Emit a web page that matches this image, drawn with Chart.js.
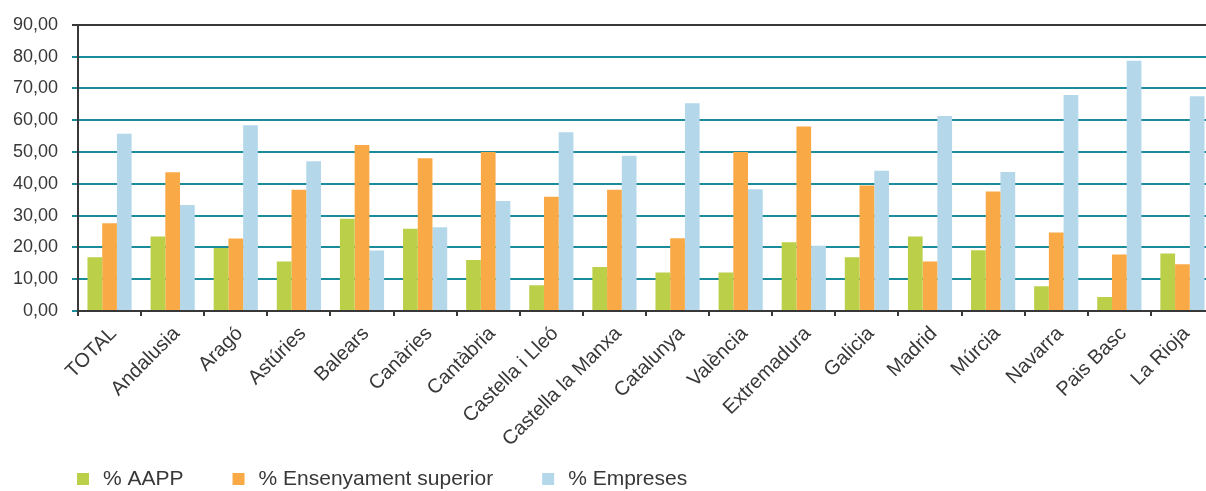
<!DOCTYPE html>
<html>
<head>
<meta charset="utf-8">
<script src="https://cdn.jsdelivr.net/npm/chart.js@4"></script>
<style>
  html, body { margin: 0; padding: 0; background: #fff; overflow: hidden; }
  /* plot runs slightly past the right edge of the window */
  #wrap { width: 1214px; height: 491px; position: relative; }
</style>
</head>
<body>
<div id="wrap"><canvas id="chart"></canvas></div>
<script>
// Comunitats autònomes
const regions = ['TOTAL', 'Andalusia', 'Aragó', 'Astúries', 'Balears', 'Canàries', 'Cantàbria',
  'Castella i Lleó', 'Castella la Manxa', 'Catalunya', 'València', 'Extremadura', 'Galicia',
  'Madrid', 'Múrcia', 'Navarra', 'Pais Basc', 'La Rioja'];

const aapp        = [16.9, 23.4, 19.8, 15.6, 29.0, 25.9, 16.0, 8.1, 13.8, 12.1, 12.1, 21.6, 16.9, 23.4, 19.1, 7.8, 4.4, 18.1];
const ensenyament = [27.6, 43.6, 22.8, 38.1, 52.2, 48.0, 50.0, 35.9, 38.1, 22.9, 50.0, 58.0, 39.5, 15.6, 37.6, 24.7, 17.8, 14.7];
const empreses    = [55.7, 33.3, 58.4, 47.1, 19.0, 26.3, 34.6, 56.2, 48.8, 65.3, 38.3, 20.5, 44.1, 61.3, 43.7, 67.9, 78.7, 67.5];

const yMax = 90;
const yStep = 10;

const FONT = '"Liberation Sans", Arial, Helvetica, sans-serif';
const TEXT = '#383838';
const TEAL = '#1a8b9b';

// legend drawn under the axis labels, lined up with the plot's left edge
const bottomLegend = {
  id: 'bottomLegend',
  afterDraw(chart) {
    const ctx = chart.ctx;
    ctx.save();
    ctx.font = '21px ' + FONT;
    ctx.textBaseline = 'middle';
    let x = chart.chartArea.left - 1;
    const y = 479;
    chart.data.datasets.forEach(ds => {
      ctx.fillStyle = ds.backgroundColor;
      ctx.fillRect(x, y - 6, 12, 12);
      ctx.fillStyle = TEXT;
      ctx.fillText(ds.label, x + 26, y);
      x += 26 + ctx.measureText(ds.label).width + 49;
    });
    ctx.restore();
  }
};

new Chart(document.getElementById('chart'), {
  type: 'bar',
  data: {
    labels: regions,
    datasets: [
      { label: '% AAPP', data: aapp, backgroundColor: '#bccf49' },
      { label: '% Ensenyament superior', data: ensenyament, backgroundColor: '#f9aa47' },
      { label: '% Empreses', data: empreses, backgroundColor: '#b4d8ea' }
    ]
  },
  options: {
    responsive: true,
    maintainAspectRatio: false,
    animation: false,
    datasets: {
      bar: { categoryPercentage: 0.7, barPercentage: 1, borderWidth: 0 }
    },
    layout: { padding: { top: 22, right: 0, bottom: 0, left: 0 } },
    plugins: {
      legend: { display: false },
      tooltip: { enabled: false }
    },
    scales: {
      x: {
        afterFit: s => { s.height = 180; },
        grid: { display: true, drawOnChartArea: false, offset: true, color: TEXT, lineWidth: 2, tickLength: 5 },
        border: { color: TEXT, width: 2 },
        ticks: {
          autoSkip: false, minRotation: 45, maxRotation: 45, padding: 6, labelOffset: 4,
          color: TEXT, font: { family: FONT, size: 20 }
        }
      },
      y: {
        min: 0, max: yMax,
        afterFit: s => { s.width = 78; },
        grid: {
          color: c => c.tick.value === yMax ? TEXT : TEAL,
          lineWidth: 2, tickLength: 6
        },
        border: { color: TEXT, width: 2 },
        ticks: {
          stepSize: yStep, padding: 14, color: TEXT,
          font: { family: FONT, size: 18 },
          callback: v => v.toFixed(2).replace('.', ',')
        }
      }
    }
  },
  plugins: [bottomLegend]
});
</script>
</body>
</html>
